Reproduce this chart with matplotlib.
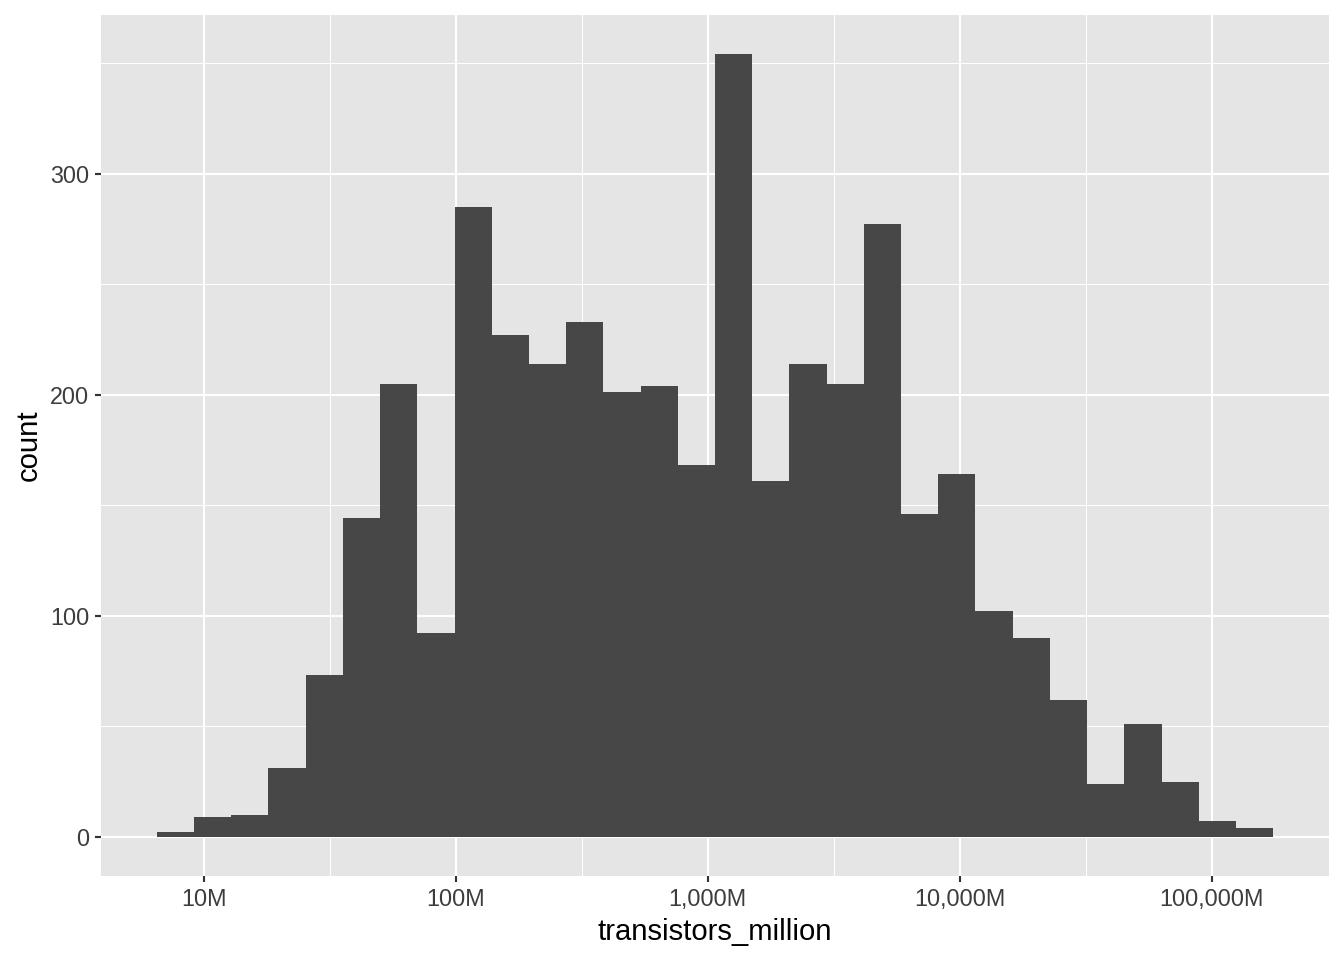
import numpy as np
import matplotlib
matplotlib.use("Agg")
import matplotlib.pyplot as plt
from matplotlib.ticker import FixedLocator, FixedFormatter, NullFormatter

# histogram of log10(transistors_million), 30 bins
bin_start_log = 0.8123     # left edge of first bin, log10(million)
bin_width_log = 0.14775    # bin width in log10 units
counts = [2, 9, 10, 31, 73, 144, 205, 92, 285, 227,
          214, 233, 201, 204, 168, 354, 161, 214, 205, 277,
          146, 164, 102, 90, 62, 24, 51, 25, 7, 4]

x_breaks = [10, 100, 1000, 10000, 100000]
x_labels = ["10M", "100M", "1,000M", "10,000M", "100,000M"]
y_breaks = [0, 100, 200, 300]

plt.rcParams["font.family"] = ["Liberation Sans", "DejaVu Sans"]

bg = "#e5e5e5"
bar_col = "#474747"
text_col = "#3d3d3d"

fig = plt.figure(figsize=(1344 / 144, 960 / 144), dpi=144)
ax = fig.add_axes([101 / 1344, 1 - 876 / 960, (1329 - 101) / 1344, (876 - 15) / 960])

edges = 10 ** (bin_start_log + bin_width_log * np.arange(len(counts) + 1))
ax.bar(edges[:-1], counts, width=np.diff(edges), align="edge",
       color=bar_col, linewidth=0, zorder=3)

ax.set_xscale("log")
log_lo, log_hi = np.log10(edges[0]), np.log10(edges[-1])
pad = 0.05 * (log_hi - log_lo)
ax.set_xlim(10 ** (log_lo - pad), 10 ** (log_hi + pad))
ymax = max(counts)
ax.set_ylim(-0.05 * ymax, 1.05 * ymax)

ax.xaxis.set_major_locator(FixedLocator(x_breaks))
ax.xaxis.set_major_formatter(FixedFormatter(x_labels))
minor_x = [10 ** (np.log10(b) + 0.5) for b in x_breaks[:-1]]
ax.xaxis.set_minor_locator(FixedLocator(minor_x))
ax.xaxis.set_minor_formatter(NullFormatter())
ax.yaxis.set_major_locator(FixedLocator(y_breaks))
ax.yaxis.set_minor_locator(FixedLocator([50, 150, 250, 350]))

ax.set_facecolor(bg)
for s in ax.spines.values():
    s.set_visible(False)
ax.grid(which="major", color="white", linewidth=1.07, zorder=1)
ax.grid(which="minor", color="white", linewidth=0.53, zorder=1)
ax.set_axisbelow(True)

ax.tick_params(which="major", length=3, width=1.07, color="#333333",
               labelsize=11.7, labelcolor=text_col, pad=2.9)
ax.tick_params(which="minor", length=0)

ax.set_xlabel("transistors_million", fontsize=14.6, color="black", labelpad=3.7)
ax.set_ylabel("count", fontsize=14.6, color="black", labelpad=3.7)

fig.savefig("out.png", dpi=144, facecolor="white")
